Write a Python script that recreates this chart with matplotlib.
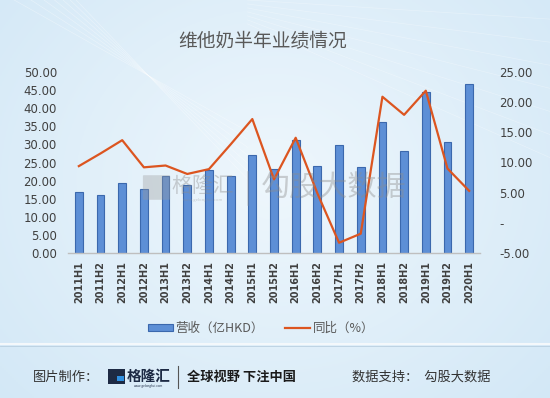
import matplotlib

matplotlib.use("Agg")
import matplotlib.pyplot as plt
import numpy as np
from matplotlib.patches import Rectangle, FancyBboxPatch
from matplotlib.lines import Line2D
from matplotlib.ticker import FuncFormatter, MultipleLocator

plt.rcParams["font.family"] = ["Noto Sans CJK SC", "DejaVu Sans"]

# half-year revenue (HKD 100m) and YoY growth (%)
periods = ["2011H1", "2011H2", "2012H1", "2012H2", "2013H1", "2013H2",
           "2014H1", "2014H2", "2015H1", "2015H2", "2016H1", "2016H2",
           "2017H1", "2017H2", "2018H1", "2018H2", "2019H1", "2019H2",
           "2020H1"]
revenue = [16.8, 15.9, 19.4, 17.6, 21.3, 18.9, 22.9, 21.4, 27.1, 23.1,
           31.3, 24.0, 29.8, 23.8, 36.3, 28.2, 44.4, 30.6, 46.8]
yoy = [9.4, 11.5, 13.7, 9.2, 9.5, 8.1, 8.9, 13.0, 17.2, 7.2,
       14.1, 4.9, -3.3, -1.8, 20.9, 17.9, 21.9, 9.0, 5.3]

title = "维他奶半年业绩情况"
bar_label = "营收（亿HKD）"
line_label = "同比（%）"

BAR_FACE = "#5d8fd6"
BAR_EDGE = "#3b68ad"
LINE_COLOR = "#dc5520"
TEXT = "#404040"

fig = plt.figure(figsize=(5.5, 3.98), dpi=100)

# soft blue background
bg = fig.add_axes([0, 0, 1, 1], zorder=-10)
yy, xx = np.mgrid[0:1:200j, 0:1:275j]
dist = np.sqrt(((xx - 0.5) / 0.8) ** 2 + ((yy - 0.45) / 0.95) ** 2)
t = np.clip(dist, 0, 1)[..., None]
centre = np.array([0.935, 0.968, 0.99])
edge = np.array([0.81, 0.90, 0.963])
img = centre * (1 - t) + edge * t
bg.imshow(img, extent=[0, 1, 0, 1], aspect="auto", origin="upper")
for k in range(7):
    s = np.linspace(0, 1, 50)
    bg.plot(s * 0.45, 1.02 - s * (0.35 + 0.05 * k) + 0.03 * k, color="white",
            lw=0.5, alpha=0.35)
    bg.plot(0.45 + s * 0.55, 1.0 - s * 0.12 * (k + 1) * 0.4 - 0.01 * k,
            color="white", lw=0.5, alpha=0.3)
bg.axhline(1 - 344 / 398, color="#f4f8fb", lw=1.5)
bg.axhline(1 - 346 / 398, color="#b9cfe0", lw=0.6)
bg.set_xlim(0, 1)
bg.set_ylim(0, 1)
bg.axis("off")

ax = fig.add_axes([68 / 550, 1 - 253 / 398, 412 / 550, 181 / 398])
ax.patch.set_alpha(0)
x = np.arange(len(periods))
ax.bar(x, revenue, width=0.36, color=BAR_FACE, edgecolor=BAR_EDGE,
       linewidth=0.8, zorder=2)
ax.set_xlim(-0.5, len(periods) - 0.5)
ax.set_ylim(0, 50)
ax.yaxis.set_major_locator(MultipleLocator(5))
ax.yaxis.set_major_formatter(FuncFormatter(lambda v, _: f"{v:.2f}"))
ax.set_xticks(x)
ax.set_xticklabels(periods, rotation=90, fontsize=7, color=TEXT,
                   family="DejaVu Sans", fontweight="bold")
ax.tick_params(axis="y", length=0, labelsize=8.5, colors=TEXT, pad=8)
ax.tick_params(axis="x", length=0, pad=6)
for lab in ax.get_yticklabels():
    lab.set_family("DejaVu Sans")
for side in ["top", "right", "left"]:
    ax.spines[side].set_visible(False)
ax.spines["bottom"].set_color("#bfbfbf")
ax.spines["bottom"].set_linewidth(1.0)

ax2 = ax.twinx()
ax2.plot(x, yoy, color=LINE_COLOR, lw=1.6, zorder=3)
ax2.set_ylim(-5, 25)
ax2.yaxis.set_major_locator(MultipleLocator(5))
ax2.yaxis.set_major_formatter(
    FuncFormatter(lambda v, _: "-" if abs(v) < 1e-9 else f"{v:.2f}"))
ax2.tick_params(axis="y", length=0, labelsize=8.5, colors=TEXT, pad=14)
for lab in ax2.get_yticklabels():
    lab.set_family("DejaVu Sans")
for side in ["top", "right", "left", "bottom"]:
    ax2.spines[side].set_visible(False)

fig.text(263 / 550, 1 - 42 / 398, title, ha="center", va="center",
         fontsize=13.5, color="#595959")

handles = [Rectangle((0, 0), 1, 1, facecolor=BAR_FACE, edgecolor=BAR_EDGE,
                     linewidth=0.8),
           Line2D([0], [0], color=LINE_COLOR, lw=1.6)]
fig.legend(handles, [bar_label, line_label], loc="center",
           bbox_to_anchor=(261 / 550, 1 - 328 / 398), ncol=2, frameon=False,
           fontsize=9, handlelength=2.0, handleheight=0.5, handletextpad=0.2,
           columnspacing=1.7, labelcolor="#595959")

# watermark
fig.patches.append(FancyBboxPatch((144 / 550, 1 - 199 / 398), 25 / 550,
                                  23 / 398, boxstyle="round,pad=0.002",
                                  transform=fig.transFigure, facecolor="#9a9a9a",
                                  edgecolor="none", alpha=0.35))
fig.text(203 / 550, 1 - 186 / 398, "格隆汇", ha="center", va="center",
         fontsize=15, color="#8c8c8c", alpha=0.4)
fig.text(203 / 550, 1 - 200 / 398, "www.gelonghui.com", ha="center",
         va="center", fontsize=3, color="#8c8c8c", alpha=0.4)
fig.add_artist(Line2D([248 / 550, 248 / 550], [1 - 205 / 398, 1 - 172 / 398],
                      transform=fig.transFigure, color="#9a9a9a", alpha=0.35,
                      lw=1.2))
fig.text(334 / 550, 1 - 189 / 398, "勾股大数据", ha="center", va="center",
         fontsize=21, color="#8c8c8c", alpha=0.4)

# footer
fy = 1 - 377 / 398
fig.text(33 / 550, fy, "图片制作：", ha="left", va="center", fontsize=9.5,
         color="#333333")
fig.patches.append(Rectangle((108 / 550, 1 - 384 / 398), 17 / 550, 15 / 398,
                             transform=fig.transFigure, facecolor="#1d2a44",
                             edgecolor="none"))
fig.patches.append(Rectangle((117 / 550, 1 - 381 / 398), 7 / 550, 5 / 398,
                             transform=fig.transFigure, facecolor="#2f8fe0",
                             edgecolor="none"))
fig.text(149 / 550, fy + 0.004, "格隆汇", ha="center", va="center",
         fontsize=10.5, color="#1d2a44", fontweight="bold")
fig.text(149 / 550, 1 - 386 / 398, "www.gelonghui.com", ha="center",
         va="center", fontsize=2.2, color="#1d2a44")
fig.add_artist(Line2D([178 / 550, 178 / 550], [1 - 388 / 398, 1 - 366 / 398],
                      transform=fig.transFigure, color="#555555", lw=0.8))
fig.text(187 / 550, fy, "全球视野 下注中国", ha="left", va="center",
         fontsize=9.5, color="#1a1a1a", fontweight="bold")
fig.text(352 / 550, fy, "数据支持：  勾股大数据", ha="left", va="center",
         fontsize=9.5, color="#333333")

fig.savefig("out.png", dpi=100)
